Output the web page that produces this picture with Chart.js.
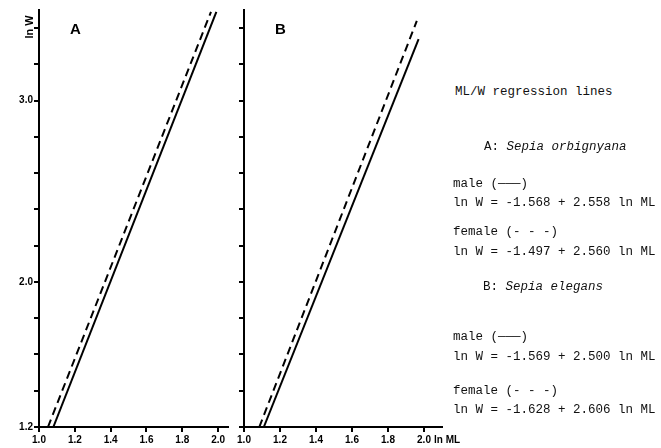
<!DOCTYPE html>
<html>
<head>
<meta charset="utf-8">
<script src="https://cdn.jsdelivr.net/npm/chart.js@4"></script>
<style>
  body { margin: 0; background: #fff; width: 661px; height: 448px; position: relative; overflow: hidden; }
  canvas { position: absolute; top: 0; }
  .t { position: absolute; font-family: "Liberation Mono", monospace; font-size: 12.5px; color: #111; white-space: pre; line-height: 14px; }
  .sp { font-style: italic; }
  .ml { position: absolute; font-family: "Liberation Sans", sans-serif; font-weight: bold; font-size: 10px; }
</style>
</head>
<body>
<canvas id="panelA" width="240" height="448" style="left:0"></canvas>
<canvas id="panelB" width="250" height="448" style="left:205px"></canvas>

<div class="t" style="left:455px;top:85px">ML/W regression lines</div>
<div class="t" style="left:484px;top:140px">A: <span class="sp">Sepia orbignyana</span></div>
<div class="t" style="left:453px;top:177px">male (&mdash;&mdash;&mdash;)</div>
<div class="t" style="left:453px;top:196px">ln W = -1.568 + 2.558 ln ML</div>
<div class="t" style="left:453px;top:225px">female (- - -)</div>
<div class="t" style="left:453px;top:245px">ln W = -1.497 + 2.560 ln ML</div>
<div class="t" style="left:483px;top:280px">B: <span class="sp">Sepia elegans</span></div>
<div class="t" style="left:453px;top:330px">male (&mdash;&mdash;&mdash;)</div>
<div class="t" style="left:453px;top:350px">ln W = -1.569 + 2.500 ln ML</div>
<div class="t" style="left:453px;top:384px">female (- - -)</div>
<div class="t" style="left:453px;top:403px">ln W = -1.628 + 2.606 ln ML</div>
<div class="ml" style="left:434px;top:434px">ln ML</div>

<script>
// axis ticks
const xTicks = [1.0, 1.2, 1.4, 1.6, 1.8, 2.0];
const yTicks = [1.2, 1.4, 1.6, 1.8, 2.0, 2.2, 2.4, 2.6, 2.8, 3.0, 3.2, 3.4];
const yLabeled = [1.2, 2.0, 3.0];

// line end points (ln ML, ln W)
const aMaleX = [1.08, 1.99];
const aMaleY = [1.2, 3.49];
const aFemaleX = [1.05, 1.96];
const aFemaleY = [1.2, 3.49];
const bMaleX = [1.11, 1.97];
const bMaleY = [1.2, 3.34];
const bFemaleX = [1.085, 1.96];
const bFemaleY = [1.2, 3.44];

const tickFont = { family: "Liberation Sans", size: 10, weight: "bold" };

function pts(xs, ys) {
  return xs.map((x, i) => ({ x: x, y: ys[i] }));
}

const textPlugin = {
  id: "panelText",
  afterDraw(chart, args, opts) {
    const ctx = chart.ctx;
    const area = chart.chartArea;
    ctx.save();
    ctx.fillStyle = "#000";
    ctx.font = "bold 15px 'Liberation Sans'";
    ctx.textBaseline = "middle";
    ctx.fillText(opts.letter, area.left + 31, 30);
    if (opts.yTitle) {
      ctx.translate(30, 27);
      ctx.rotate(-Math.PI / 2);
      ctx.font = "bold 11px 'Liberation Sans'";
      ctx.textAlign = "center";
      ctx.fillText("ln W", 0, 0);
    }
    ctx.restore();
  },
};

function makePanel(id, letter, male, female, xMax, padRight, showYLabels) {
  new Chart(document.getElementById(id), {
    type: "scatter",
    data: {
      datasets: [
        { data: male, showLine: true, borderColor: "#000", borderWidth: 2, pointRadius: 0 },
        { data: female, showLine: true, borderColor: "#000", borderWidth: 2, borderDash: [8, 5], pointRadius: 0 },
      ],
    },
    options: {
      responsive: false,
      animation: false,
      events: [],
      layout: { padding: { top: 10, right: padRight, bottom: 0, left: 0 } },
      plugins: {
        legend: { display: false },
        tooltip: { enabled: false },
        panelText: { letter: letter, yTitle: showYLabels },
      },
      scales: {
        x: {
          type: "linear",
          min: 1.0,
          max: xMax,
          afterBuildTicks: (axis) => { axis.ticks = xTicks.map((v) => ({ value: v })); },
          afterFit: (axis) => { axis.height = 21; },
          border: { color: "#000", width: 2 },
          grid: { drawOnChartArea: false, color: "#000", lineWidth: 2, tickLength: 5 },
          ticks: { color: "#000", font: tickFont, padding: 2, maxRotation: 0, callback: (v) => v.toFixed(1) },
        },
        y: {
          type: "linear",
          min: 1.2,
          max: 3.5,
          afterBuildTicks: (axis) => { axis.ticks = yTicks.map((v) => ({ value: v })); },
          afterFit: (axis) => { axis.width = 39; },
          border: { color: "#000", width: 2 },
          grid: { drawOnChartArea: false, color: "#000", lineWidth: 2, tickLength: 5 },
          ticks: {
            color: "#000",
            font: tickFont,
            padding: 1,
            callback: (v) => (showYLabels && yLabeled.some((l) => Math.abs(l - v) < 1e-6) ? v.toFixed(1) : ""),
          },
        },
      },
    },
    plugins: [textPlugin],
  });
}

makePanel("panelA", "A", pts(aMaleX, aMaleY), pts(aFemaleX, aFemaleY), 2.055, 12, true);
makePanel("panelB", "B", pts(bMaleX, bMaleY), pts(bFemaleX, bFemaleY), 2.1, 13, false);
</script>
</body>
</html>
